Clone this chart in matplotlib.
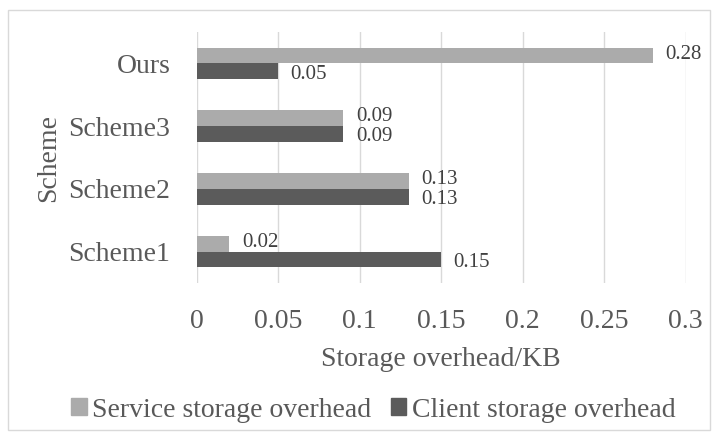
import matplotlib
matplotlib.use('Agg')
import matplotlib.pyplot as plt
import matplotlib.patches as mpatches
import numpy as np

plt.rcParams['font.family'] = ['Liberation Serif', 'DejaVu Serif']

schemes = ['Scheme1', 'Scheme2', 'Scheme3', 'Ours']
service = [0.02, 0.13, 0.09, 0.28]
client = [0.15, 0.13, 0.09, 0.05]
xticks = [0, 0.05, 0.1, 0.15, 0.2, 0.25, 0.3]
xtick_labels = ['0', '0.05', '0.1', '0.15', '0.2', '0.25', '0.3']

SERVICE_C = '#ababab'
CLIENT_C = '#5b5b5b'

fig = plt.figure(figsize=(7.18, 4.4), dpi=100)
fig.patches.append(mpatches.Rectangle((0.011, 0.023), 0.978, 0.955, transform=fig.transFigure,
                                      fill=False, edgecolor='#d9d9d9', linewidth=1))
ax = fig.add_axes([0.274, 0.357, 0.681, 0.570])

y = np.arange(len(schemes))
h = 0.25
bars_s = ax.barh(y + h / 2, service, height=h, color=SERVICE_C, zorder=3)
bars_c = ax.barh(y - h / 2, client, height=h, color=CLIENT_C, zorder=3)

# service labels nudged up, client labels down, so equal pairs overlap less
for bars, dy in ((bars_s, 1), (bars_c, -2)):
    for b in bars:
        w = b.get_width()
        ax.annotate(f'{w:.2f}', (w, b.get_y() + b.get_height() / 2),
                    xytext=(9, dy), textcoords='offset points',
                    ha='left', va='center', fontsize=15, color='#404040')

ax.set_xlim(0, 0.3)
ax.set_ylim(-0.5, 3.5)
ax.set_xticks(xticks)
ax.set_xticklabels(xtick_labels)
ax.set_yticks(y)
ax.set_yticklabels(schemes)
ax.tick_params(axis='both', length=0, labelsize=20, colors='#595959')
ax.tick_params(axis='x', pad=19)
ax.tick_params(axis='y', pad=19)
ax.grid(axis='x', color='#d9d9d9', linewidth=1, zorder=0)
for s in ax.spines.values():
    s.set_visible(False)

ax.set_xlabel('Storage overhead/KB', fontsize=20, color='#595959', labelpad=9)
ax.set_ylabel('Scheme', fontsize=20, color='#595959', labelpad=5)

handles = [mpatches.Patch(color=SERVICE_C, label='Service storage overhead'),
           mpatches.Patch(color=CLIENT_C, label='Client storage overhead')]
fig.legend(handles=handles, loc='center', bbox_to_anchor=(0.52, 0.068), ncol=2, frameon=False,
           fontsize=20, handlelength=0.55, handleheight=0.55, handletextpad=0.2, columnspacing=0.7,
           labelcolor='#595959')

fig.savefig('out.png', dpi=100)
